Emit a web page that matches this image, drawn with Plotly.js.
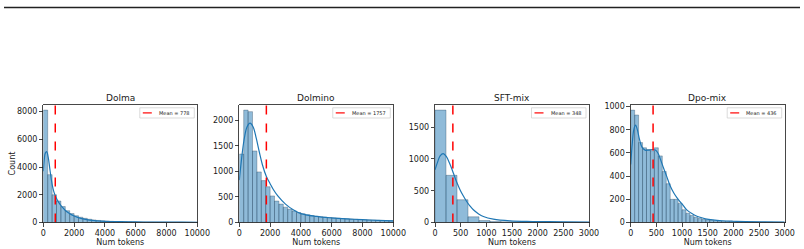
<!DOCTYPE html>
<html>
<head>
<meta charset="utf-8">
<script src="https://cdn.plot.ly/plotly-3.0.1.min.js"></script>
<style>html,body{margin:0;padding:0;background:#fff;}#chart{width:804px;height:249px;}</style>
</head>
<body>
<div id="chart"></div>
<script>
// ---------------- data ----------------
const panelTitles = ["Dolma", "Dolmino", "SFT-mix", "Dpo-mix"];
const meanValues = [778, 1757, 348, 436];
const xMax = [10000, 10000, 3000, 3000];
const xTickStep = [2000, 2000, 500, 500];
const yTickStep = [2000, 500, 500, 200];
const binWidths = [10000 / 35, 10000 / 35, 3000 / 14, 3000 / 39];

const dolmaCounts = [8100, 3450, 2000, 1550, 1150, 850, 640, 490, 380, 300, 235, 185, 148, 120, 100, 84, 72, 62, 54, 47, 41, 36, 32, 29, 26, 23, 21, 19, 17, 16, 15, 14, 13, 12, 11];
const dolminoCounts = [1340, 2200, 2170, 1400, 990, 820, 700, 520, 420, 360, 300, 260, 225, 195, 170, 150, 135, 122, 112, 104, 96, 90, 84, 78, 72, 67, 62, 58, 54, 50, 46, 43, 40, 37, 34];
const sftCounts = [1768, 742, 358, 89, 30, 16, 11, 8, 6, 5, 4, 3, 3, 2];
const dpoCounts = [970, 928, 690, 645, 630, 620, 645, 575, 440, 335, 200, 200, 165, 110, 80, 60, 45, 35, 28, 23, 19, 16, 13, 11, 10, 9, 8, 7, 6, 5, 5, 4, 4, 3, 3, 3, 2, 2, 2];

const dolmaKdeX = [0, 60, 130, 220, 320, 420, 520, 620, 720, 850, 1000, 1200, 1400, 1700, 2000, 2500, 3000, 3500, 4000, 5000, 6000, 7000, 8000, 9000, 10000];
const dolmaKdeY = [3700, 4500, 5000, 5100, 4700, 3900, 3100, 2500, 2100, 1750, 1450, 1150, 900, 650, 470, 280, 170, 115, 85, 58, 42, 33, 26, 20, 15];
const dolminoKdeX = [0, 150, 300, 500, 700, 900, 1100, 1300, 1500, 1757, 2000, 2200, 2500, 3000, 3500, 4000, 5000, 6000, 7000, 8000, 9000, 10000];
const dolminoKdeY = [830, 1250, 1600, 1870, 1945, 1870, 1650, 1380, 1130, 900, 760, 650, 520, 360, 250, 175, 120, 90, 70, 55, 42, 32];
const sftKdeX = [0, 50, 100, 160, 220, 290, 357, 420, 487, 550, 617, 680, 747, 850, 942, 1136, 1461, 1900, 2500, 3000];
const sftKdeY = [830, 950, 1050, 1085, 1040, 920, 780, 640, 516, 420, 330, 260, 200, 135, 95, 53, 26, 16, 10, 5];
const dpoKdeX = [0, 30, 60, 95, 130, 170, 220, 280, 350, 430, 480, 530, 580, 640, 700, 770, 840, 900, 960, 1011, 1070, 1128, 1200, 1259, 1350, 1455, 1600, 1781, 2000, 2237, 2600, 3000];
const dpoKdeY = [500, 680, 800, 840, 800, 720, 650, 625, 625, 630, 625, 600, 545, 470, 400, 315, 255, 215, 180, 155, 120, 96, 75, 61, 45, 32, 22, 15, 11, 8, 5, 3];

const countsList = [dolmaCounts, dolminoCounts, sftCounts, dpoCounts];
const kdeXList = [dolmaKdeX, dolminoKdeX, sftKdeX, dpoKdeX];
const kdeYList = [dolmaKdeY, dolminoKdeY, sftKdeY, dpoKdeY];

// ---------------- layout geometry ----------------
const W = 804, H = 249;
const plotLeftPx = [43.3, 239.3, 435.0, 630.7];
const plotWidthPx = 154;
const plotTopPx = 104.5, plotBottomPx = 222.5;
const font = "DejaVu Sans, sans-serif";
const ink = "#1a1a1a";

const traces = [];
const layout = {
  width: W, height: H,
  margin: {l: 0, r: 0, t: 0, b: 0},
  paper_bgcolor: "#fff", plot_bgcolor: "#fff",
  showlegend: false,
  font: {family: font, color: ink, size: 8},
  shapes: [], annotations: []
};

layout.shapes.push({
  type: "line", xref: "paper", yref: "paper",
  x0: 4 / W, x1: 800 / W, y0: 1 - 7.5 / H, y1: 1 - 7.5 / H,
  line: {color: "#222", width: 1.6}
});

for (let p = 0; p < 4; p++) {
  const sfx = p === 0 ? "" : String(p + 1);
  const xa = "x" + sfx, ya = "y" + sfx;
  const counts = countsList[p];
  const bw = binWidths[p];
  const lefts = counts.map((_, i) => i * bw);
  const yTop = Math.max(...counts, ...kdeYList[p]) * 1.05;

  traces.push({
    type: "bar", x: lefts, y: counts, width: bw, offset: 0,
    xaxis: xa, yaxis: ya,
    marker: {color: "rgba(31,119,180,0.5)", line: {color: "rgba(35,60,85,0.55)", width: 0.6}},
    hoverinfo: "skip"
  });
  traces.push({
    type: "scatter", mode: "lines", x: kdeXList[p], y: kdeYList[p],
    xaxis: xa, yaxis: ya,
    line: {color: "#1f77b4", width: 1.2, shape: "spline", smoothing: 1.0},
    hoverinfo: "skip"
  });
  traces.push({
    type: "scatter", mode: "lines", x: [meanValues[p], meanValues[p]], y: [0, yTop],
    xaxis: xa, yaxis: ya,
    line: {color: "#ff0000", width: 1.5, dash: "dash"},
    hoverinfo: "skip"
  });

  const x0 = plotLeftPx[p] / W, x1 = (plotLeftPx[p] + plotWidthPx) / W;
  layout["xaxis" + sfx] = {
    domain: [x0, x1], anchor: ya, range: [0, xMax[p]],
    tick0: 0, dtick: xTickStep[p], tickformat: "d",
    showline: true, mirror: true, linecolor: ink, linewidth: 0.8,
    ticks: "outside", ticklen: 3.5, tickwidth: 0.8, tickcolor: ink,
    showgrid: false, zeroline: false, automargin: false,
    tickfont: {family: font, size: 8, color: ink},
    title: {text: "Num tokens", font: {family: font, size: 8, color: ink}, standoff: 0}
  };
  layout["yaxis" + sfx] = {
    domain: [1 - plotBottomPx / H, 1 - plotTopPx / H], anchor: xa, range: [0, yTop],
    tick0: 0, dtick: yTickStep[p], tickformat: "d",
    showline: true, mirror: true, linecolor: ink, linewidth: 0.8,
    ticks: "outside", ticklen: 3.5, tickwidth: 0.8, tickcolor: ink,
    showgrid: false, zeroline: false, automargin: false,
    tickfont: {family: font, size: 8, color: ink},
    title: p === 0 ? {text: "Count", font: {family: font, size: 8, color: ink}, standoff: 0} : {text: ""}
  };

  // panel title
  layout.annotations.push({
    xref: xa + " domain", yref: ya + " domain", x: 0.5, y: 1, yshift: 0,
    xanchor: "center", yanchor: "bottom", showarrow: false,
    text: panelTitles[p], font: {family: font, size: 9, color: ink}
  });

  // legend box (matplotlib style)
  const label = "Mean = " + meanValues[p];
  const boxW = 24 + label.length * 3.05;
  layout.shapes.push({
    type: "rect", xref: xa + " domain", yref: ya + " domain",
    xsizemode: "pixel", ysizemode: "pixel", xanchor: 1, yanchor: 1,
    x0: -3 - boxW, x1: -3, y0: -13.5, y1: -3.3,
    line: {color: "#cccccc", width: 0.7}, fillcolor: "rgba(255,255,255,0.8)"
  });
  layout.shapes.push({
    type: "line", xref: xa + " domain", yref: ya + " domain",
    xsizemode: "pixel", ysizemode: "pixel", xanchor: 1, yanchor: 1,
    x0: -3 - boxW + 3, x1: -3 - boxW + 13, y0: -8.4, y1: -8.4,
    line: {color: "#ff0000", width: 1.2, dash: "dash"}
  });
  layout.annotations.push({
    xref: xa + " domain", yref: ya + " domain", x: 1, y: 1,
    xshift: -3 - boxW + 17, yshift: -8.4,
    xanchor: "left", yanchor: "middle", showarrow: false,
    text: label, font: {family: font, size: 5, color: ink}
  });
}

Plotly.newPlot("chart", traces, layout, {staticPlot: true, displayModeBar: false});
</script>
</body>
</html>
